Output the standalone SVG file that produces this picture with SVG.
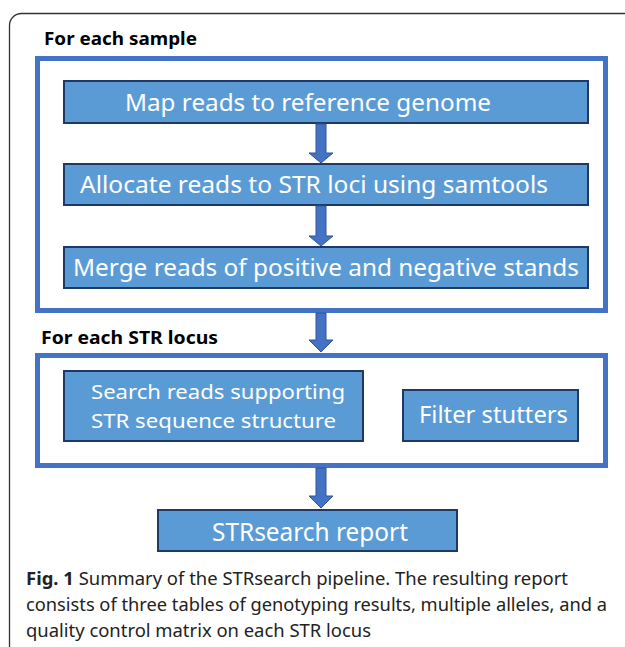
<svg xmlns="http://www.w3.org/2000/svg" width="625" height="647" viewBox="0 0 625 647">
<defs>
<style>
.frame{fill:none;stroke:#333;stroke-width:1.3}
.group{fill:none;stroke:#4472C4;stroke-width:5}
.node{fill:#5B9BD5;stroke:#1F3864;stroke-width:2}
.ntext{font-family:"Noto Sans","Open Sans","Liberation Sans",sans-serif;fill:#fff;font-size:23px}
.label{font-family:"Noto Sans","Open Sans","Liberation Sans",sans-serif;fill:#000;font-size:18px;font-weight:bold}
.cap{font-family:"Noto Sans","Open Sans","Liberation Sans",sans-serif;fill:#222;font-size:18px}
.arrow{fill:#4472C4;stroke:#2F5597;stroke-width:1}
</style>
</defs>
<rect width="625" height="647" fill="#fff"/>
<rect class="frame" x="9.5" y="13.5" width="660" height="680" rx="12"/>

<g id="sample-group">
<rect class="group" x="37.5" y="58.5" width="568" height="252"/>
<text class="label" x="44" y="45" textLength="153" lengthAdjust="spacingAndGlyphs">For each sample</text>
</g>

<g id="map">
<rect class="node" x="64" y="81" width="524" height="42"/>
<text class="ntext" x="125" y="111" textLength="366" lengthAdjust="spacingAndGlyphs">Map reads to reference genome</text>
</g>
<g id="allocate">
<rect class="node" x="64" y="164" width="524" height="41"/>
<text class="ntext" x="80" y="193" textLength="468" lengthAdjust="spacingAndGlyphs">Allocate reads to STR loci using samtools</text>
</g>
<g id="merge">
<rect class="node" x="64" y="247" width="524" height="41"/>
<text class="ntext" x="73" y="276" textLength="506" lengthAdjust="spacingAndGlyphs">Merge reads of positive and negative stands</text>
</g>

<g id="locus-group">
<rect class="group" x="37.5" y="355.5" width="568" height="110"/>
<text class="label" x="41" y="344" textLength="177" lengthAdjust="spacingAndGlyphs">For each STR locus</text>
</g>
<g id="search">
<rect class="node" x="64" y="371" width="299" height="70"/>
<text class="ntext" x="91" y="399" style="font-size:20.5px" textLength="254" lengthAdjust="spacingAndGlyphs">Search reads supporting</text>
<text class="ntext" x="91" y="428" style="font-size:20.5px" textLength="245" lengthAdjust="spacingAndGlyphs">STR sequence structure</text>
</g>
<g id="filter">
<rect class="node" x="403" y="390" width="175" height="51"/>
<text class="ntext" x="419" y="423" textLength="149" lengthAdjust="spacingAndGlyphs">Filter stutters</text>
</g>
<g id="report">
<rect class="node" x="158" y="510" width="299" height="41"/>
<text class="ntext" x="212" y="541" style="font-size:26px" textLength="196" lengthAdjust="spacingAndGlyphs">STRsearch report</text>
</g>

<g id="connectors">
<polygon class="arrow" points="316,124 326,124 326,153 333,153 321,163 309,153 316,153"/>
<polygon class="arrow" points="316,206 326,206 326,236 333,236 321,246 309,236 316,236"/>
<polygon class="arrow" points="316,313 326,313 326,340 333,340 321,352 309,340 316,340"/>
<polygon class="arrow" points="316,468 326,468 326,496 333,496 321,508 309,496 316,496"/>
</g>

<g id="caption">
<text class="cap" x="26" y="585" textLength="542" lengthAdjust="spacingAndGlyphs"><tspan font-weight="bold">Fig. 1</tspan> Summary of the STRsearch pipeline. The resulting report</text>
<text class="cap" x="26" y="611" textLength="581" lengthAdjust="spacingAndGlyphs">consists of three tables of genotyping results, multiple alleles, and a</text>
<text class="cap" x="26" y="637" textLength="345" lengthAdjust="spacingAndGlyphs">quality control matrix on each STR locus</text>
</g>
</svg>
